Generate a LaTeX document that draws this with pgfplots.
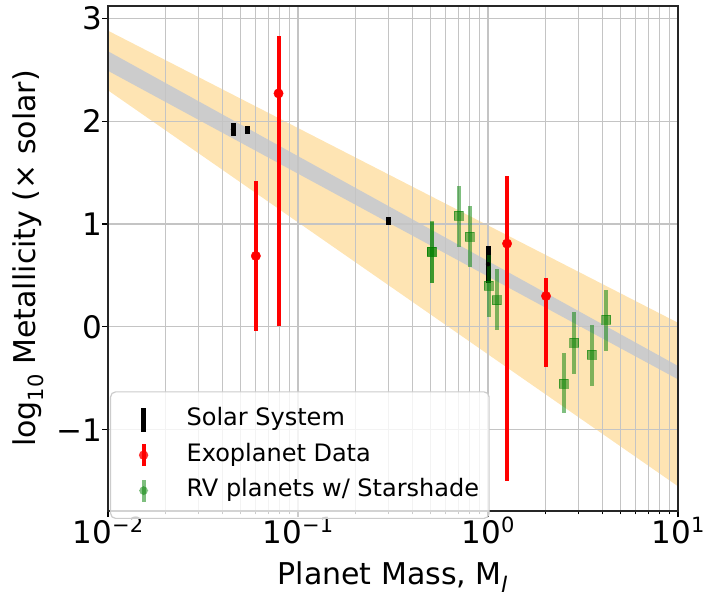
\documentclass[border=0pt]{standalone}
\usepackage{pgfplots}
\usepackage{pgfplotstable}
\pgfplotsset{compat=1.18}
\usepackage{fontspec}
\setmainfont{DejaVu Sans}
\usetikzlibrary{calc}

\definecolor{mplgreen}{HTML}{008000}
\definecolor{bandorange}{HTML}{FEE4B3}
\definecolor{bandgray}{HTML}{CCCCCC}
\definecolor{gridgray}{HTML}{C4C4C4}

% 10^k tick label in the text font
\newcommand\tp[1]{10\raisebox{11pt}{\fontsize{21}{21}\selectfont #1}}

% solar system planets: mass, log Z, err+, err-
\pgfplotstableread{
x      y      ep    em
0.0455 1.92   0.06  0.06
0.054  1.915  0.035 0.035
0.301  1.03   0.035 0.035
1.0    0.61   0.18  0.18
}\solar

% exoplanet data
\pgfplotstableread{
x     y     ep    em
0.060 0.69  0.73  0.73
0.079 2.27  0.56  2.26
1.26  0.81  0.66  2.31
2.02  0.30  0.18  0.69
}\exo

% RV planets w/ starshade
\pgfplotstableread{
x     y      ep    em
0.507 0.73   0.29  0.30
0.70  1.08   0.29  0.30
0.80  0.88   0.30  0.30
1.01  0.40   0.30  0.30
1.11  0.26   0.30  0.29
2.51  -0.55  0.30  0.29
2.84  -0.155 0.30  0.30
3.52  -0.27  0.29  0.30
4.18  0.07   0.29  0.30
}\rv

\begin{document}
\begin{tikzpicture}[font=\fontsize{30}{36}\selectfont]
\begin{axis}[
    name=ax, set layers,
    scale only axis, width=570pt, height=505pt,
    xmode=log, xmin=0.01, xmax=10,
    ymin=-1.79, ymax=3.12,
    xtick={0.01,0.1,1,10},
    xticklabels={\tp{−2},\tp{−1},\tp{0},\tp{1}},
    ytick={-1,0,1,2,3},
    yticklabels={−1,0,1,2,3},
    tick align=outside, tick pos=left,
    major tick length=6pt, minor tick length=3.5pt,
    every tick/.style={black, line width=1.2pt},
    xmajorgrids, xminorgrids, ymajorgrids,
    grid style={gridgray, line width=1.2pt},
    axis line style={line width=1.5pt, black!85},
    tick label style={font=\fontsize{31}{31}\selectfont},
    xticklabel style={inner sep=0pt, anchor=north},
    yticklabel style={inner sep=0pt, anchor=east},
    legend style={at={(axis description cs:0,0)}, anchor=south west,
        xshift=2pt, yshift=-8pt,
        draw=black!20, line width=1.2pt, rounded corners=5pt,
        fill=white, fill opacity=0.8, text opacity=1, draw opacity=1,
        inner xsep=0pt, inner ysep=10pt,
        font=\fontsize{24}{28}\selectfont,
        nodes={inner xsep=10pt, inner ysep=5.75pt, text height=18pt, text depth=6pt}},
    legend cell align=left,
]
% legend images
\addlegendimage{legend image code/.code={
        \path[draw=none, fill=none] (0pt,0pt) -- (66pt,0pt);
        \path[draw=black, line width=5pt] (33pt,-12pt) -- (33pt,12pt);}}
\addlegendentry{Solar System}
\addlegendimage{legend image code/.code={
        \path[draw=none, fill=none] (0pt,0pt) -- (66pt,0pt);
        \path[draw=red, line width=4pt] (33pt,-11pt) -- (33pt,11pt);
        \path[draw=none, fill=red] (33pt,0pt) circle (4.7pt);}}
\addlegendentry{Exoplanet Data}
\addlegendimage{legend image code/.code={
        \path[draw=none, fill=none] (0pt,0pt) -- (66pt,0pt);
        \path[draw=mplgreen, draw opacity=0.5, line width=4pt] (33pt,-11pt) -- (33pt,11pt);
        \path[draw=none, fill=mplgreen, fill opacity=0.5] (28.5pt,-4.5pt) rectangle (37.5pt,4.5pt);}}
\addlegendentry{RV planets w/ Starshade}

% bands
\addplot[on layer=axis background, fill=bandorange, draw=none, forget plot]
    coordinates {(0.01,2.88) (10,0.04) (10,-1.55) (0.01,2.30)} -- cycle;
\addplot[on layer=axis background, fill=bandgray, draw=none, forget plot]
    coordinates {(0.01,2.68) (10,-0.38) (10,-0.51) (0.01,2.49)} -- cycle;

% solar system
\addplot[forget plot, black, only marks, mark=none,
    error bars/.cd, y dir=both, y explicit, error mark=none,
    error bar style={line width=5pt, black}]
    table[x=x, y=y, y error plus=ep, y error minus=em]{\solar};

% exoplanets
\addplot[forget plot, red, only marks, mark=*, mark size=4.7pt,
    mark options={draw=red, fill=red, line width=0.4pt},
    error bars/.cd, y dir=both, y explicit, error mark=none,
    error bar style={line width=4pt, red}]
    table[x=x, y=y, y error plus=ep, y error minus=em]{\exo};

% RV planets
\addplot[forget plot, mplgreen, only marks, mark=square*, mark size=4.5pt,
    mark options={draw=mplgreen, fill=mplgreen, line width=0.4pt, opacity=0.5},
    error bars/.cd, y dir=both, y explicit, error mark=none,
    error bar style={line width=4pt, mplgreen, draw opacity=0.5}]
    table[x=x, y=y, y error plus=ep, y error minus=em]{\rv};
% second point at M=0.5 (overlapping)
\addplot[forget plot, mplgreen, only marks, mark=square*, mark size=4.5pt,
    mark options={draw=mplgreen, fill=mplgreen, line width=0.4pt, opacity=0.5},
    error bars/.cd, y dir=both, y explicit, error mark=none,
    error bar style={line width=4pt, mplgreen, draw opacity=0.5}]
    coordinates {(0.507,0.73) +- (0,0.30)};
\end{axis}
\node[anchor=base] at ($(ax.south)+(0,-74pt)$) {Planet Mass, M\textsubscript{\textit{J}}};
\node[anchor=base, rotate=90] at ($(ax.west)+(-72pt,0)$) {log\textsubscript{10} Metallicity (× solar)};
\pgfresetboundingbox
\path[use as bounding box] ($(ax.south west)+(-108pt,-81pt)$) rectangle ++(705pt,592pt);
\end{tikzpicture}
\end{document}
